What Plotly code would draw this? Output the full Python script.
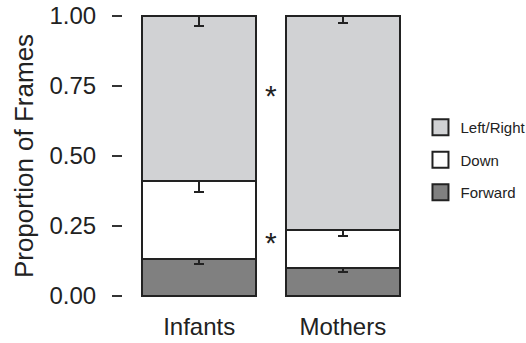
import plotly.graph_objects as go

groups = ["Infants", "Mothers"]
series = ["Forward", "Down", "Left/Right"]
forward = [0.132, 0.101]
down = [0.278, 0.136]
leftright = [0.590, 0.763]
err_forward = [0.018, 0.015]
err_down = [0.040, 0.024]
err_leftright = [0.037, 0.025]
colors = {"Forward": "#808080", "Down": "#ffffff", "Left/Right": "#d1d2d4"}
star_y = [0.725, 0.20]
yticks = [0, 0.25, 0.5, 0.75, 1.0]
ytick_text = ["0.00", "0.25", "0.50", "0.75", "1.00"]

FONT = "Liberation Sans, Arial, Helvetica, sans-serif"
EDGE = "#222222"

fig = go.Figure()
values = {"Forward": forward, "Down": down, "Left/Right": leftright}
errs = {"Forward": err_forward, "Down": err_down, "Left/Right": err_leftright}
for name in series:
    fig.add_trace(go.Bar(
        x=[0, 1], y=values[name], name=name, showlegend=False,
        width=0.79,
        marker=dict(color=colors[name], line=dict(color=EDGE, width=2)),
        error_y=dict(type="data", symmetric=False, array=[0, 0],
                     arrayminus=errs[name], color=EDGE, thickness=2, width=5),
    ))
# legend entries (top to bottom: Left/Right, Down, Forward)
for name in reversed(series):
    fig.add_trace(go.Scatter(
        x=[None], y=[None], mode="markers", name=name, legendgroup=name,
        marker=dict(symbol="square", size=16, color=colors[name],
                    line=dict(color=EDGE, width=2)),
    ))

for sy in star_y:
    fig.add_annotation(x=0.5, y=sy, xref="x", yref="y", text="*",
                       showarrow=False, font=dict(size=30, color=EDGE, family=FONT),
                       yshift=-2)

fig.update_layout(
    width=526, height=343,
    margin=dict(l=123, r=107, t=2, b=33, autoexpand=False),
    barmode="stack",
    plot_bgcolor="white", paper_bgcolor="white",
    font=dict(family=FONT, color="#222222"),
    legend=dict(x=1.005, xanchor="left", y=0.487, yanchor="middle",
                font=dict(size=15, color="#222222", family=FONT),
                itemsizing="trace", traceorder="grouped", tracegroupgap=10,
                itemwidth=30, bgcolor="rgba(0,0,0,0)"),
)
fig.update_xaxes(range=[-0.53, 1.53], tickvals=[0, 1], ticktext=groups,
                 showgrid=False, zeroline=False, showline=False, ticks="",
                 tickfont=dict(size=24, color="#222222"), ticklabelstandoff=0,
                 automargin=False)
fig.update_yaxes(range=[-0.05, 1.05], tickvals=yticks, ticktext=ytick_text,
                 showgrid=False, zeroline=False, showline=False,
                 ticks="outside", ticklen=10, tickwidth=2, tickcolor="#333333",
                 ticklabelstandoff=11,
                 tickfont=dict(size=24, color="#222222"), automargin=False,
                 title=dict(text="Proportion of Frames", font=dict(size=26, color="#222222"),
                            standoff=8))
fig.write_html("out.html", config={"displayModeBar": False},
               post_script="document.body.style.margin='0';document.body.style.overflow='hidden';")
